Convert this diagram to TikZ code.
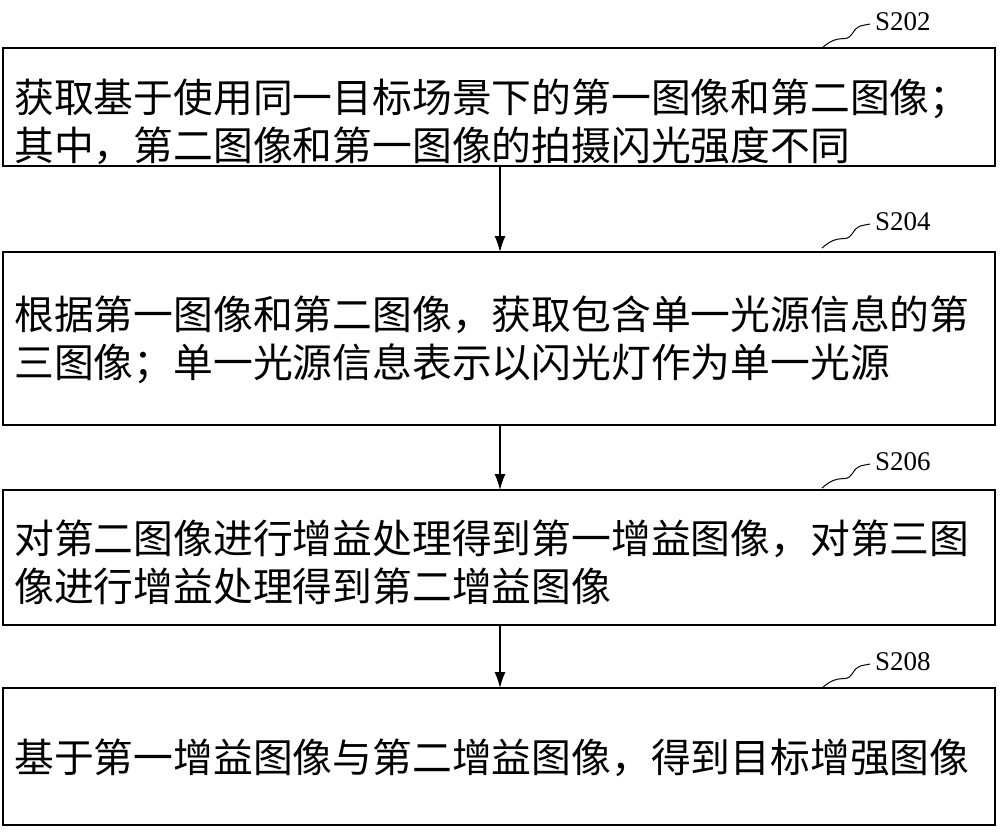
\documentclass[tikz,border=0pt]{standalone}
\usepackage{fontspec}
\usetikzlibrary{arrows.meta}
\newfontfamily\cjk{Noto Sans CJK SC}
\setmainfont{Liberation Serif}
\begin{document}
\begin{tikzpicture}[x=1pt,y=-1pt,
  boxst/.style={draw,line width=1.6pt},
  txt/.style={anchor=west,align=left,inner sep=0pt,font=\cjk\fontsize{39.8}{48}\selectfont},
  lab/.style={font=\fontsize{27}{30}\selectfont,anchor=west,inner sep=0pt},
  arr/.style={-{Latex[length=16pt,width=11pt]},line width=1.4pt}]
\useasboundingbox (0,0) rectangle (1000,831);
\draw[boxst] (3,48) rectangle (995,166);
\draw[boxst] (3,252) rectangle (995,425);
\draw[boxst] (3,490) rectangle (995,625);
\draw[boxst] (3,688) rectangle (995,825);
\coordinate (b1) at (500,166); \coordinate (t2) at (500,252);
\coordinate (b2) at (500,425); \coordinate (t3) at (500,490);
\coordinate (b3) at (500,625); \coordinate (t4) at (500,688);
\draw[arr] (b1) -- (t2); \draw[arr] (b2) -- (t3); \draw[arr] (b3) -- (t4);
\node[txt] (x1) at (14,122) {获取基于使用同一目标场景下的第一图像和第二图像；\\其中，第二图像和第一图像的拍摄闪光强度不同};
\node[txt] (x2) at (14,340) {根据第一图像和第二图像，获取包含单一光源信息的第\\三图像；单一光源信息表示以闪光灯作为单一光源};
\node[txt] (x3) at (14,562) {对第二图像进行增益处理得到第一增益图像，对第三图\\像进行增益处理得到第二增益图像};
\node[txt] (x4) at (14,758) {基于第一增益图像与第二增益图像，得到目标增强图像};
\foreach \y/\s in {22/S202,222/S204,462/S206,662/S208}{
  \node[lab] at (875,\y) {\s};
  \draw[line width=1pt] (822,\y+26) .. controls (840,\y+10) and (845,\y+22) .. (852,\y+12) .. controls (858,\y+2) and (862,\y+4) .. (870,\y+2);
}
\end{tikzpicture}
\end{document}
